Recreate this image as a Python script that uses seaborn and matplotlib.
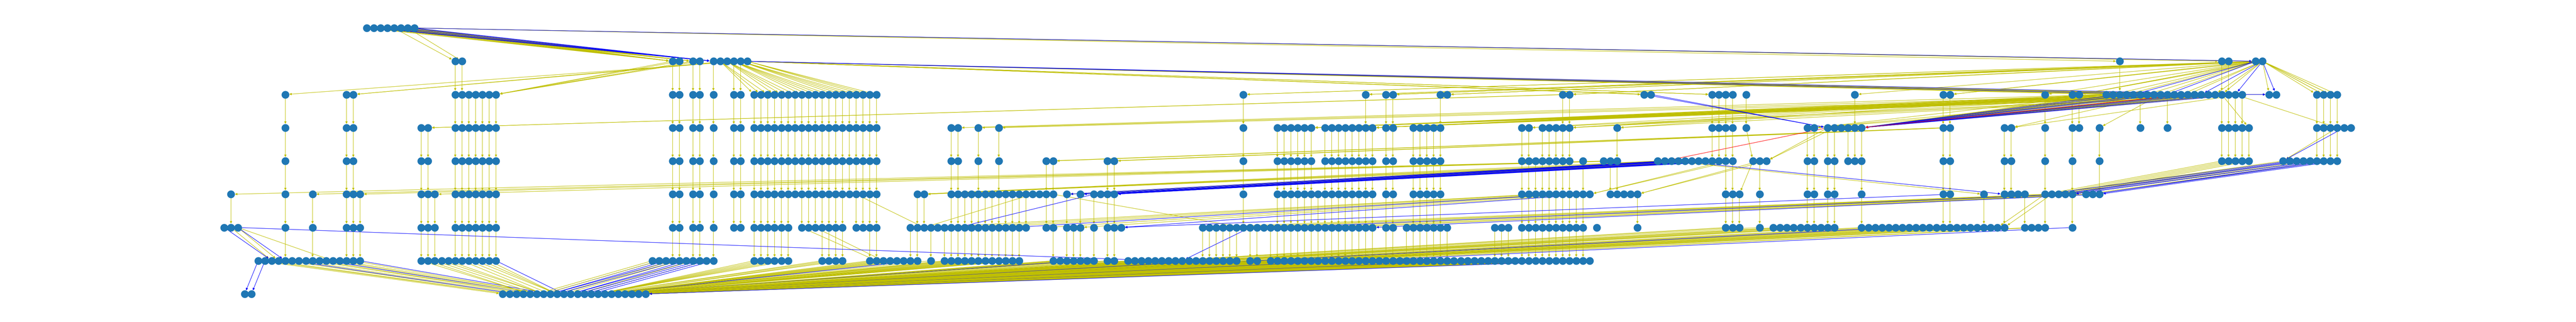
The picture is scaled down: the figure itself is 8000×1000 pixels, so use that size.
import numpy as np
import pandas as pd
import matplotlib
matplotlib.use("Agg")
import matplotlib.pyplot as plt
from matplotlib.patches import FancyArrowPatch
import seaborn as sns

# ---------------- data: node groups per layer (x of first node, count) ----------------
LEVEL_0 = [(1137, 8)]
LEVEL_1 = [(1409, 2), (2085, 2), (2148, 2), (2210, 6), (6590, 1), (6906, 2), (7011, 2)]
LEVEL_2 = [(884, 1), (1073, 2), (1409, 7), (2085, 2), (2148, 2), (2210, 1), (2273, 2), (2337, 19),
           (3853, 1), (4233, 1), (4294, 2), (4463, 2), (4843, 2), (5116, 2), (5326, 4), (5433, 1),
           (5769, 1), (6042, 2), (6358, 1), (6442, 2), (6548, 21), (7054, 2), (7202, 4)]
LEVEL_3 = [(884, 1), (1073, 2), (1305, 2), (1409, 7), (2085, 2), (2148, 2), (2210, 1), (2273, 2),
           (2337, 19), (2947, 2), (3031, 1), (3095, 1), (3853, 1), (3958, 6), (4105, 8), (4294, 2),
           (4399, 5), (4716, 2), (4800, 5), (5032, 1), (5326, 4), (5433, 1), (5621, 2), (5684, 6),
           (6042, 2), (6232, 2), (6358, 1), (6442, 2), (6527, 1), (6653, 1), (6737, 1), (6906, 5),
           (7202, 6)]
LEVEL_4 = [(884, 1), (1073, 2), (1305, 2), (1409, 7), (2085, 2), (2148, 2), (2210, 1), (2273, 2),
           (2337, 19), (2947, 2), (3031, 1), (3095, 1), (3241, 2), (3431, 2), (3853, 1), (3958, 6),
           (4105, 8), (4294, 2), (4399, 5), (4716, 2), (4779, 6), (4926, 1), (4990, 3), (5157, 12),
           (5452, 3), (5621, 2), (5684, 2), (5748, 3), (6042, 2), (6232, 2), (6358, 1), (6442, 1),
           (6527, 1), (6906, 5), (7095, 9)]
LEVEL_5 = [(715, 1), (884, 1), (968, 1), (1073, 3), (1305, 3), (1409, 7), (2085, 2), (2148, 2),
           (2210, 1), (2273, 2), (2337, 19), (2842, 2), (2947, 16), (3305, 1), (3347, 1), (3389, 4),
           (3853, 1), (3958, 15), (4294, 2), (4399, 5), (4716, 2), (4779, 9), (5011, 5), (5369, 3),
           (5473, 1), (5621, 2), (5684, 2), (5790, 1), (6042, 2), (6169, 1), (6232, 4), (6358, 5),
           (6484, 3)]
LEVEL_6 = [(695, 3), (884, 1), (968, 1), (1073, 3), (1305, 3), (1409, 7), (2085, 2), (2148, 2),
           (2210, 1), (2273, 2), (2337, 6), (2485, 7), (2652, 4), (2821, 18), (3241, 2), (3305, 3),
           (3389, 1), (3431, 3), (3737, 26), (4294, 2), (4358, 7), (4632, 3), (4716, 2), (4779, 8),
           (4969, 1), (5075, 1), (5369, 3), (5473, 1), (5516, 10), (5790, 22), (6296, 4), (6442, 1)]
LEVEL_7 = [(799, 16), (1305, 12), (2020, 10), (2337, 6), (2549, 4), (2695, 8), (2884, 1),
           (2927, 12), (3263, 7), (3431, 2), (3495, 17), (3873, 2), (3937, 48)]
LEVEL_8 = [(757, 2), (1558, 22)]
LEVELS = [LEVEL_0, LEVEL_1, LEVEL_2, LEVEL_3, LEVEL_4, LEVEL_5, LEVEL_6, LEVEL_7, LEVEL_8]

# edge bundles: (src_layer, src_x0, src_x1, dst_layer, dst_x0, dst_x1, n_yellow, n_blue)
BUNDLES = [
    (0, 1220, 1270, 1, 1409, 1431, 2, 0),
    (0, 1137, 1285, 1, 2085, 2085, 8, 0),
    (0, 1180, 1285, 1, 2148, 2148, 5, 0),
    (0, 1137, 1285, 1, 2210, 2210, 3, 6),
    (0, 1285, 1285, 1, 7011, 7011, 2, 1),
    (0, 1285, 1285, 1, 6590, 6590, 1, 0),
    (0, 1285, 1285, 1, 6906, 6906, 1, 0),
    (1, 2300, 2300, 2, 884, 884, 1, 0),
    (1, 2252, 2273, 2, 1094, 1094, 2, 0),
    (1, 2085, 2169, 2, 1537, 1537, 5, 0),
    (1, 2231, 2316, 2, 2337, 2718, 19, 0),
    (1, 2316, 2316, 2, 6548, 6971, 6, 2),
    (1, 2316, 2316, 2, 5116, 5137, 4, 0),
    (1, 2316, 2316, 2, 5326, 5326, 3, 0),
    (1, 7011, 7032, 2, 3853, 3853, 2, 0),
    (1, 7011, 7032, 2, 4233, 4233, 2, 0),
    (1, 7011, 7032, 2, 4316, 4316, 3, 0),
    (1, 7011, 7032, 2, 4484, 4484, 3, 0),
    (1, 7011, 7032, 2, 4864, 4864, 3, 0),
    (1, 7011, 7032, 2, 5769, 5769, 1, 0),
    (1, 7011, 7032, 2, 6063, 6063, 2, 0),
    (1, 7011, 7032, 2, 6358, 6358, 1, 0),
    (1, 7011, 7032, 2, 6463, 6463, 3, 0),
    (1, 7011, 7032, 2, 6570, 6950, 8, 4),
    (1, 7032, 7032, 2, 7054, 7075, 1, 1),
    (1, 7032, 7032, 2, 7202, 7265, 6, 0),
    (2, 6548, 6971, 3, 5790, 5790, 12, 8),
    (2, 6548, 6971, 3, 5642, 5642, 3, 0),
    (2, 6700, 6971, 3, 6253, 6253, 2, 0),
    (2, 6548, 6971, 3, 2968, 3095, 3, 0),
    (2, 6548, 6971, 3, 4064, 4064, 8, 0),
    (2, 6548, 6971, 3, 4253, 4253, 8, 0),
    (2, 6548, 6971, 3, 4737, 4737, 2, 0),
    (2, 6548, 6971, 3, 4885, 4885, 3, 0),
    (2, 6548, 6971, 3, 5032, 5032, 2, 0),
    (2, 6717, 6717, 3, 6527, 6527, 1, 0),
    (2, 6900, 6900, 3, 6990, 6990, 1, 0),
    (2, 6935, 6935, 3, 7265, 7265, 1, 0),
    (2, 6969, 6969, 2, 7054, 7054, 1, 1),
    (2, 5116, 5137, 3, 5684, 5684, 0, 2),
    (2, 4843, 4864, 3, 1326, 1326, 2, 0),
    (3, 5684, 5705, 4, 5495, 5495, 2, 0),
    (3, 5433, 5433, 4, 5452, 5452, 1, 0),
    (3, 6042, 6063, 4, 3241, 3263, 2, 0),
    (3, 6042, 6063, 4, 3431, 3452, 2, 0),
    (3, 7265, 7286, 4, 7095, 7095, 1, 1),
    (4, 4990, 4990, 5, 715, 715, 1, 0),
    (4, 5011, 5011, 5, 968, 968, 1, 0),
    (4, 5011, 5011, 5, 1115, 1115, 1, 0),
    (4, 5032, 5032, 5, 1347, 1347, 1, 0),
    (4, 5157, 5390, 5, 3305, 3452, 12, 10),
    (4, 5157, 5390, 5, 2842, 2863, 4, 0),
    (4, 5369, 5390, 5, 4949, 4949, 2, 0),
    (4, 5474, 5495, 5, 5096, 5096, 2, 0),
    (4, 5452, 5452, 5, 5411, 5411, 1, 0),
    (4, 5200, 5200, 5, 6169, 6169, 1, 0),
    (4, 5220, 5220, 5, 6232, 6232, 0, 1),
    (4, 6906, 6990, 5, 6358, 6442, 5, 0),
    (4, 7095, 7265, 5, 6358, 6526, 6, 9),
    (5, 6358, 6526, 6, 3737, 4266, 6, 2),
    (5, 4779, 4949, 6, 2900, 3473, 5, 2),
    (5, 2657, 2657, 6, 2863, 2863, 1, 0),
    (5, 3200, 3200, 6, 2863, 2863, 1, 0),
    (5, 3389, 3389, 6, 2968, 2968, 0, 1),
    (5, 3263, 3263, 6, 3870, 3870, 1, 0),
    (5, 6063, 6063, 6, 3473, 3473, 0, 1),
    (5, 6358, 6379, 6, 6211, 6232, 2, 0),
    (6, 695, 695, 7, 841, 841, 0, 1),
    (6, 737, 737, 7, 884, 884, 0, 1),
    (6, 715, 715, 7, 841, 841, 1, 0),
    (6, 737, 737, 7, 862, 862, 1, 0),
    (6, 737, 737, 7, 1032, 1032, 1, 0),
    (6, 737, 737, 7, 3600, 3600, 0, 1),
    (6, 2485, 2530, 7, 2716, 2737, 2, 0),
    (6, 3891, 3891, 7, 3667, 3667, 0, 1),
    (6, 5369, 6442, 8, 1870, 2002, 24, 2),
    (7, 799, 799, 8, 757, 757, 0, 1),
    (7, 820, 820, 8, 778, 778, 0, 1),
    (7, 799, 1117, 8, 1558, 1700, 10, 3),
    (7, 1305, 1538, 8, 1640, 1760, 10, 1),
    (7, 2020, 2210, 8, 1660, 1840, 6, 9),
    (7, 2337, 4932, 8, 1850, 2002, 101, 6),
]
RED_EDGES = [(3, 5684, 4, 5178), (2, 6800, 3, 5790)]

EDGE_COLORS = {"yellow": "#bfbf00", "blue": "#0000ff", "red": "#ff0000"}
NODE_COLOR = "#1f77b4"

# ---------------- layout ----------------
SLOT = 21.1
ROW_TOP = 87.0
ROW_STEP = 103.25

def snap(x):
    return int(np.floor(x / SLOT + 0.5))

rows = []
for lev, groups in enumerate(LEVELS):
    for start, count in groups:
        s0 = snap(start)
        for i in range(count):
            rows.append((lev, s0 + i))
nodes = pd.DataFrame(rows, columns=["level", "slot"]).drop_duplicates().reset_index(drop=True)
nodes["x"] = nodes["slot"] * SLOT
nodes["y"] = ROW_TOP + nodes["level"] * ROW_STEP
node_set = set(zip(nodes["level"], nodes["slot"]))
by_level = {lev: np.sort(nodes.loc[nodes.level == lev, "slot"].values) for lev in range(len(LEVELS))}

def pick(lev, x0, x1):
    s0, s1 = snap(x0), snap(x1)
    sl = by_level[lev]
    sel = sl[(sl >= s0) & (sl <= s1)]
    if len(sel) == 0:
        mid = (x0 + x1) / 2 / SLOT
        sel = np.array([sl[np.argmin(np.abs(sl - mid))]])
    return sel

def pos(lev, slot):
    return (slot * SLOT, ROW_TOP + lev * ROW_STEP)

first_pass, last_pass = [], []

# straight chains between stacked nodes
for lev in range(len(LEVELS) - 1):
    for s in by_level[lev]:
        if (lev + 1, s) in node_set:
            first_pass.append((((lev, s), (lev + 1, s)), EDGE_COLORS["yellow"]))

for (sl, sx0, sx1, dl, dx0, dx1, ny, nb) in BUNDLES:
    srcs = pick(sl, sx0, sx1)
    dsts = pick(dl, dx0, dx1)
    n = ny + nb
    for k in range(n):
        f = k / (n - 1) if n > 1 else 0.0
        s = srcs[int(round(f * (len(srcs) - 1)))]
        t = dsts[int(round(f * (len(dsts) - 1)))]
        is_blue = nb > 0 and int((k + 1) * nb / n) > int(k * nb / n)
        item = (((sl, s), (dl, t)), EDGE_COLORS["blue" if is_blue else "yellow"])
        # blue strands sit on top of the yellow bands, except in the bottom fan
        if is_blue and dl != 8:
            last_pass.append(item)
        else:
            first_pass.append(item)

for (sl, sx, dl, dx) in RED_EDGES:
    last_pass.append((((sl, pick(sl, sx, sx)[0]), (dl, pick(dl, dx, dx)[0])), EDGE_COLORS["red"]))

# ---------------- drawing ----------------
sns.set_theme(style="white", color_codes=False)
fig = plt.figure(figsize=(80, 10), dpi=100)
ax = fig.add_axes([0, 0, 1, 1])

shrink = np.sqrt(300) / 2
for (a, b), col in first_pass + last_pass:
    p = FancyArrowPatch(pos(*a), pos(*b), arrowstyle="-|>", mutation_scale=10,
                        color=col, linewidth=1.0, shrinkA=shrink, shrinkB=shrink,
                        zorder=1)
    ax.add_patch(p)

sns.scatterplot(data=nodes, x="x", y="y", s=300, color=NODE_COLOR, linewidth=0,
                ax=ax, zorder=2, legend=False)
ax.set_xlim(0, 8000)
ax.set_ylim(1000, 0)
ax.set_axis_off()

fig.savefig("out.png", dpi=100)
